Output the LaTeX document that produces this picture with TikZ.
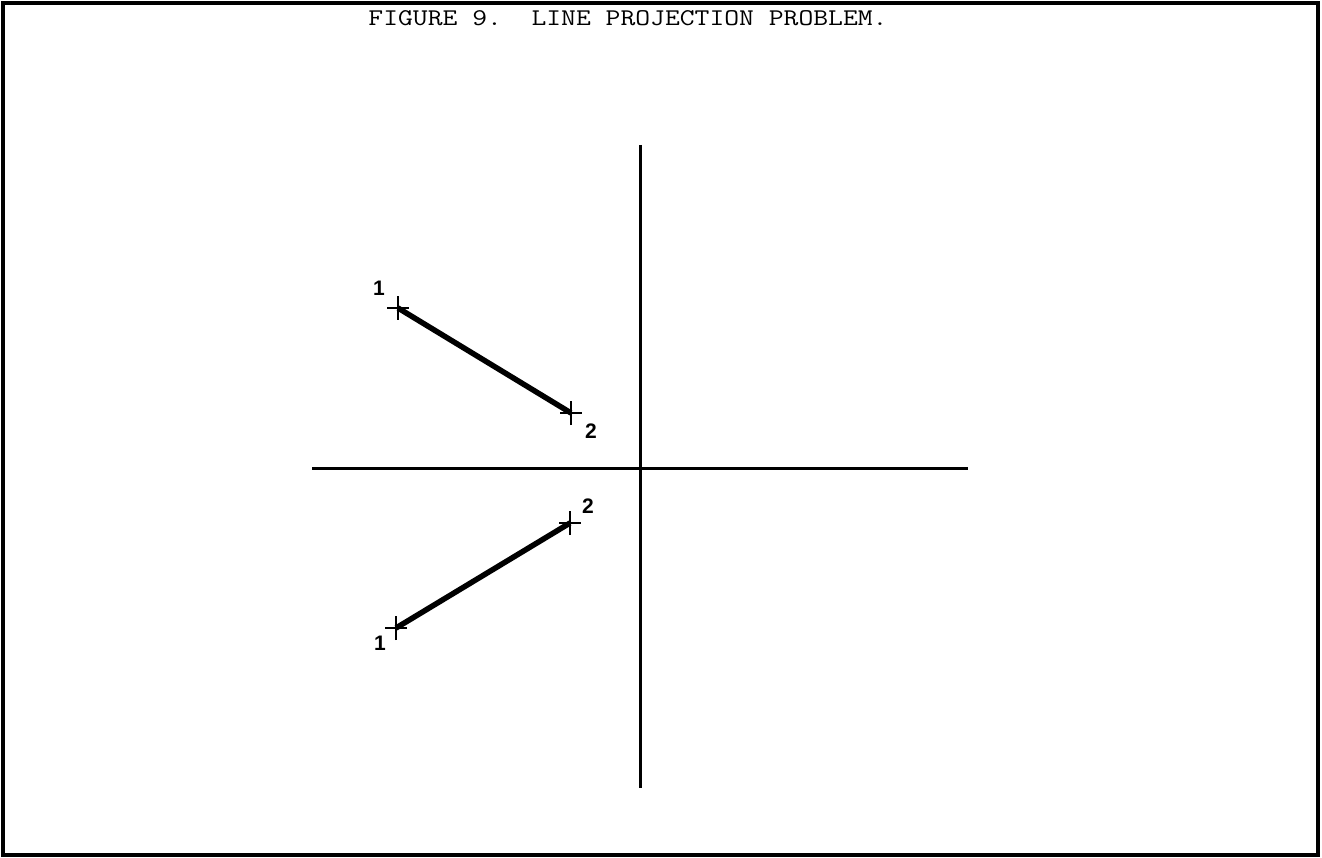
\documentclass[tikz,border=0pt]{standalone}
\usepackage{fontspec}
\usepackage{graphicx}
\newfontfamily\labfont{Liberation Sans}
\begin{document}
\begin{tikzpicture}[x=1pt,y=-1pt,
  axis/.style={line width=3pt},
  seg/.style={line width=5.5pt},
  crossmark/.style={line width=2.8pt},
  ptlabel/.style={font=\labfont\bfseries\fontsize{21}{21}\selectfont, inner sep=0pt},
  titletext/.style={font=\ttfamily\fontsize{24}{24}\selectfont, inner sep=0pt}]
\useasboundingbox (0,0) rectangle (1322,858);
\draw[line width=3.5pt] (3,3) rectangle (1318,855);
\node[titletext] (title) at (628,18) {\scalebox{1.2}[1]{FIGURE 9.\ \ LINE PROJECTION PROBLEM.}};
% axes
\coordinate (xl) at (312,468);
\coordinate (xr) at (968,468);
\coordinate (yt) at (640,145);
\coordinate (yb) at (640,788);
\draw[axis] (xl) -- (xr);
\draw[axis] (yt) -- (yb);
% points
\coordinate (a1) at (398,308);
\coordinate (a2) at (571,413);
\coordinate (b1) at (396,628);
\coordinate (b2) at (570,523);
\draw[seg] (a1) -- (a2);
\draw[seg] (b1) -- (b2);
\foreach \p in {a1,a2,b1,b2}{
  \draw[crossmark] ([xshift=-11pt]\p) -- ([xshift=11pt]\p);
  \draw[crossmark] ([yshift=-12pt]\p) -- ([yshift=12pt]\p);
}
\node[ptlabel] (la1) at (379,288) {1};
\node[ptlabel] (la2) at (591,431) {2};
\node[ptlabel] (lb2) at (588,506) {2};
\node[ptlabel] (lb1) at (380,643) {1};
\end{tikzpicture}
\end{document}
